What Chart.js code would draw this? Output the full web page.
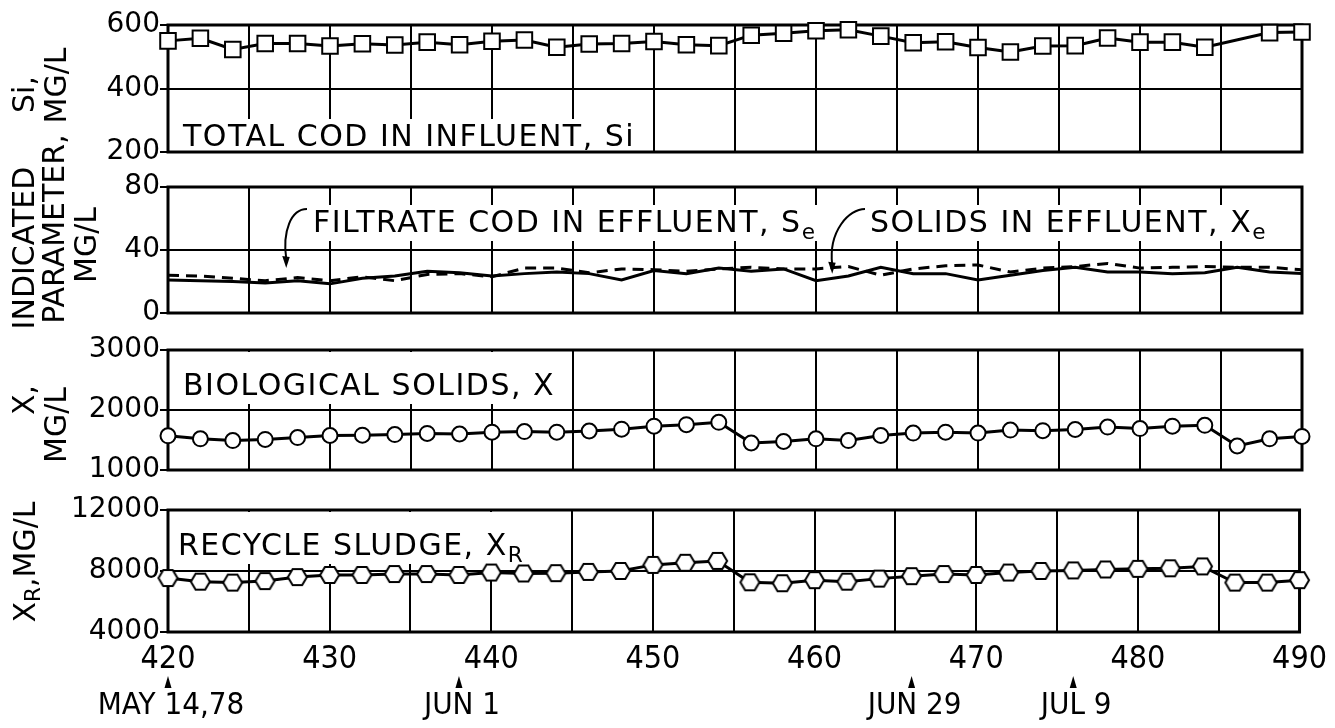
<!DOCTYPE html>
<html>
<head>
<meta charset="utf-8">
<title>Reactor operation, days 420-490</title>
<script src="https://cdn.jsdelivr.net/npm/chart.js@4.4.0/dist/chart.umd.min.js"></script>
<style>
  html, body { margin: 0; padding: 0; background: #fff; }
  #wrap { position: relative; width: 1335px; height: 728px; }
  #wrap canvas { position: absolute; left: 0; top: 0; }
</style>
</head>
<body>
<div id="wrap">
  <canvas id="siChart" width="1335" height="728"></canvas>
  <canvas id="effChart" width="1335" height="728"></canvas>
  <canvas id="xChart" width="1335" height="728"></canvas>
  <canvas id="xrChart" width="1335" height="728"></canvas>
</div>
<script>
// Operating days (sampled every other day)
const days = [420, 422, 424, 426, 428, 430, 432, 434, 436, 438, 440, 442, 444, 446, 448, 450, 452, 454,
  456, 458, 460, 462, 464, 466, 468, 470, 472, 474, 476, 478, 480, 482, 484, 486, 488, 490];

// Total COD in influent, Si (mg/L) - no sample on day 486
const siValues = [550, 558, 523, 542, 542, 534, 541, 537, 546, 538, 549, 553, 530, 540, 542, 548, 538, 535,
  568, 574, 582, 585, 565, 544, 547, 529, 515, 534, 535, 559, 546, 546, 530, null, 576, 578];

// Filtrate COD in effluent, Se (mg/L)
const seValues = [24, 23.5, 22, 20.5, 22.5, 20.5, 23, 20.5, 24.5, 25, 23, 28.5, 28.5, 25.5, 28, 27.5, 26.5, 28,
  29, 28, 28, 29.5, 24, 28, 30, 30.5, 26, 28.5, 29.5, 31.5, 28.5, 29, 29.5, 29, 29, 27.5];

// Solids in effluent, Xe (mg/L)
const xeValues = [21, 20.5, 20, 19, 20.5, 18.5, 22, 23.5, 26.5, 25.5, 23.5, 25, 26, 25, 21, 27, 25, 28.5,
  26.5, 28, 20.5, 23.5, 29, 25, 25, 21, 24, 27, 29, 26, 26, 25, 25.5, 29, 26, 25];

// Biological solids, X (mg/L)
const xValues = [1570, 1520, 1490, 1510, 1540, 1575, 1580, 1590, 1610, 1600, 1630, 1640, 1630, 1650, 1680, 1730, 1755, 1795,
  1450, 1475, 1520, 1490, 1575, 1615, 1630, 1615, 1665, 1655, 1675, 1715, 1690, 1730, 1745, 1400, 1520, 1560];

// Recycle sludge, XR (mg/L)
const xrValues = [7540, 7300, 7240, 7340, 7600, 7740, 7740, 7800, 7800, 7740, 7900, 7840, 7860, 7940, 8000, 8400, 8540, 8660,
  7260, 7200, 7400, 7300, 7500, 7660, 7800, 7740, 7900, 8000, 8040, 8100, 8140, 8180, 8300, 7240, 7240, 7400];

// Calendar dates marked under the day axis
const dateDays = [420, 438, 466, 476];
const dateLabels = ["MAY 14,78", "JUN 1", "JUN 29", "JUL 9"];

const FONT = "'DejaVu Sans', sans-serif";
const NARROW = "'Liberation Sans Narrow', 'DejaVu Sans Condensed', sans-serif";

function toPoints(values) {
  return days.map((d, i) => ({ x: d, y: values[i] }));
}

function setFont(ctx, size) {
  ctx.font = size + "px " + FONT;
}

// Text made of normal and subscript pieces, e.g. X + R
function richWidth(ctx, segs, size) {
  let w = 0;
  segs.forEach(s => {
    setFont(ctx, s.sub ? size * 0.72 : size);
    w += ctx.measureText(s.t).width;
  });
  return w;
}

function drawRich(ctx, segs, x, y, size) {
  segs.forEach(s => {
    setFont(ctx, s.sub ? size * 0.72 : size);
    ctx.fillText(s.t, x, y + (s.sub ? size * 0.24 : 0));
    x += ctx.measureText(s.t).width;
  });
}

// Flat-topped hexagon used as the recycle sludge marker
function hexagonSprite(w, h, lw) {
  const c = document.createElement("canvas");
  c.width = w + lw * 2;
  c.height = h + lw * 2;
  const g = c.getContext("2d");
  const cx = c.width / 2, cy = c.height / 2;
  g.beginPath();
  g.moveTo(cx - w / 2, cy);
  g.lineTo(cx - w / 4, cy - h / 2);
  g.lineTo(cx + w / 4, cy - h / 2);
  g.lineTo(cx + w / 2, cy);
  g.lineTo(cx + w / 4, cy + h / 2);
  g.lineTo(cx - w / 4, cy + h / 2);
  g.closePath();
  g.fillStyle = "#fff";
  g.fill();
  g.lineWidth = lw;
  g.strokeStyle = "#000";
  g.stroke();
  return c;
}

function decorPlugin(panel) {
  return {
    id: "panelDecor",
    beforeDatasetsDraw(chart) {
      const { ctx, chartArea: a } = chart;
      ctx.save();
      ctx.letterSpacing = "1.5px";
      ctx.textAlign = "left";
      ctx.textBaseline = "alphabetic";
      (panel.notes || []).forEach(n => {
        const w = richWidth(ctx, n.segs, n.size);
        const x = a.left + n.dx;
        const y = a.top + n.dy;
        const top = n.toTop ? a.top + 2 : y - n.size * 0.9;
        ctx.fillStyle = "#fff";
        ctx.fillRect(x - 7, top, w + 12, y + n.size * 0.3 - top);
        ctx.fillStyle = "#000";
        drawRich(ctx, n.segs, x, y, n.size);
      });
      ctx.restore();

      ctx.save();
      ctx.strokeStyle = "#000";
      ctx.lineWidth = 3;
      ctx.strokeRect(a.left, a.top, a.right - a.left, a.bottom - a.top);
      ctx.restore();
    },
    afterDatasetsDraw(chart) {
      if (!panel.leaders) return;
      const { ctx, scales } = chart;
      ctx.save();
      ctx.strokeStyle = "#000";
      ctx.fillStyle = "#000";
      ctx.lineWidth = 2;
      panel.leaders.forEach(l => {
        const tx = scales.x.getPixelForValue(l.at[0]);
        const ty = scales.y.getPixelForValue(l.at[1]);
        const sx = chart.chartArea.left + l.from[0];
        const sy = chart.chartArea.top + l.from[1];
        ctx.beginPath();
        ctx.moveTo(sx, sy);
        ctx.bezierCurveTo(sx - 16, sy, tx - 4, sy + 22, tx, ty - 9);
        ctx.stroke();
        ctx.beginPath();
        ctx.moveTo(tx, ty);
        ctx.lineTo(tx - 4, ty - 12);
        ctx.lineTo(tx + 3.5, ty - 11);
        ctx.closePath();
        ctx.fill();
      });
      ctx.restore();
    },
    afterDraw(chart) {
      const { ctx, chartArea: a, scales } = chart;
      const midY = (a.top + a.bottom) / 2;
      ctx.save();
      ctx.fillStyle = "#000";
      ctx.textAlign = "left";
      ctx.textBaseline = "middle";
      panel.titles.forEach(t => {
        const w = richWidth(ctx, t.segs, 30);
        ctx.save();
        ctx.translate(t.x, midY + t.dy);
        ctx.rotate(-Math.PI / 2);
        drawRich(ctx, t.segs, -w / 2, 0, 30);
        ctx.restore();
      });
      if (panel.dates) {
        ctx.textAlign = "center";
        ctx.font = "31px " + NARROW;
        dateDays.forEach((d, i) => {
          const px = scales.x.getPixelForValue(d);
          ctx.beginPath();
          ctx.moveTo(px, a.bottom + 44);
          ctx.lineTo(px - 3.5, a.bottom + 56);
          ctx.lineTo(px + 3.5, a.bottom + 56);
          ctx.closePath();
          ctx.fill();
          ctx.fillText(dateLabels[i], px + 3, a.bottom + 74);
        });
      }
      ctx.restore();
    }
  };
}

function makePanel(id, panel) {
  const ctx = document.getElementById(id).getContext("2d");
  return new Chart(ctx, {
    type: "line",
    data: { datasets: panel.datasets },
    options: {
      responsive: false,
      animation: false,
      events: [],
      layout: { padding: { left: 0, right: 33, top: panel.top, bottom: panel.bottom } },
      plugins: { legend: { display: false }, tooltip: { enabled: false } },
      elements: { line: { tension: 0, borderColor: "#000", borderWidth: 3 } },
      scales: {
        x: {
          type: "linear",
          min: 420,
          max: 490,
          ticks: {
            stepSize: 5,
            autoSkip: false,
            maxRotation: 0,
            display: !!panel.showX,
            color: "#000",
            padding: 8,
            font: { family: NARROW, size: 32 },
            callback: v => (v % 10 === 0 ? String(v) : "")
          },
          grid: { color: "#000", lineWidth: 2, drawTicks: false },
          border: { display: false },
          afterFit: axis => { axis.height = panel.showX ? 40 : 0; }
        },
        y: {
          min: panel.yMin,
          max: panel.yMax,
          ticks: {
            stepSize: panel.yStep,
            color: "#000",
            padding: 0,
            font: { family: FONT, size: 28 },
            callback: v => String(v)
          },
          grid: { color: "#000", lineWidth: 2, tickLength: 8 },
          border: { display: false },
          afterFit: axis => { axis.width = 168; }
        }
      }
    },
    plugins: [decorPlugin(panel)]
  });
}

makePanel("siChart", {
  top: 25, bottom: 576,
  yMin: 200, yMax: 600, yStep: 200,
  datasets: [{
    data: toPoints(siValues),
    spanGaps: true,
    clip: false,
    pointStyle: "rect",
    pointRadius: 11,
    pointBackgroundColor: "#fff",
    pointBorderColor: "#000",
    pointBorderWidth: 2
  }],
  notes: [{ segs: [{ t: "TOTAL COD IN INFLUENT, Si" }], dx: 15, dy: 121, size: 30 }],
  titles: [
    { segs: [{ t: "Si," }], x: 26, dy: 6 },
    { segs: [{ t: "MG/L" }], x: 58, dy: -3 }
  ]
});

makePanel("effChart", {
  top: 187, bottom: 415,
  yMin: 0, yMax: 80, yStep: 40,
  datasets: [
    {
      data: toPoints(seValues),
      pointRadius: 0,
      borderDash: [11, 7]
    },
    {
      data: toPoints(xeValues),
      pointRadius: 0
    }
  ],
  notes: [
    { segs: [{ t: "FILTRATE COD IN EFFLUENT, S" }, { t: "e", sub: true }], dx: 145, dy: 45, size: 30 },
    { segs: [{ t: "SOLIDS IN EFFLUENT, X" }, { t: "e", sub: true }], dx: 702, dy: 45, size: 30 }
  ],
  leaders: [
    { from: [139, 22], at: [427.3, 28.5] },
    { from: [697, 22], at: [461, 25] }
  ],
  titles: [
    { segs: [{ t: "INDICATED" }], x: 26, dy: -2 },
    { segs: [{ t: "PARAMETER," }], x: 56, dy: -21 },
    { segs: [{ t: "MG/L" }], x: 88, dy: -5 }
  ]
});

makePanel("xChart", {
  top: 350, bottom: 258,
  yMin: 1000, yMax: 3000, yStep: 1000,
  datasets: [{
    data: toPoints(xValues),
    clip: false,
    pointStyle: "circle",
    pointRadius: 7.5,
    pointBackgroundColor: "#fff",
    pointBorderColor: "#000",
    pointBorderWidth: 2
  }],
  notes: [{ segs: [{ t: "BIOLOGICAL SOLIDS, X" }], dx: 15, dy: 45, size: 30, toTop: true }],
  titles: [
    { segs: [{ t: "X," }], x: 26, dy: -10 },
    { segs: [{ t: "MG/L" }], x: 58, dy: 15 }
  ]
});

makePanel("xrChart", {
  top: 510, bottom: 56,
  yMin: 4000, yMax: 12000, yStep: 4000,
  showX: true,
  dates: true,
  datasets: [{
    data: toPoints(xrValues),
    clip: false,
    pointStyle: hexagonSprite(19, 16, 2),
    pointRadius: 9
  }],
  notes: [{ segs: [{ t: "RECYCLE SLUDGE, X" }, { t: "R", sub: true }], dx: 10, dy: 45, size: 30, toTop: true }],
  titles: [
    { segs: [{ t: "X" }, { t: "R", sub: true }, { t: ",MG/L" }], x: 27, dy: -9 }
  ]
});
</script>
</body>
</html>
